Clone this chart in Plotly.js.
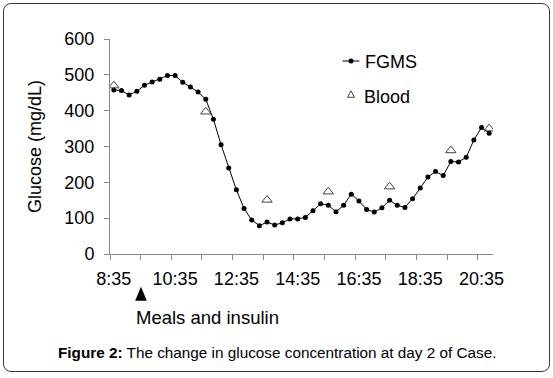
<!DOCTYPE html>
<html>
<head>
<meta charset="utf-8">
<script src="https://cdn.plot.ly/plotly-3.0.1.min.js"></script>
<style>
  html, body { margin: 0; padding: 0; background: #fff; }
  #wrap { position: relative; width: 553px; height: 378px; }
  #chart { position: absolute; left: 0; top: 0; width: 553px; height: 378px; }
  #frame { position: absolute; left: 3px; top: 3px; width: 545px; height: 367px;
           border: 1.2px solid #3a3a3a; border-radius: 8px; pointer-events: none; }
</style>
</head>
<body>
<div id="wrap">
  <div id="chart"></div>
  <div id="frame"></div>
</div>
<script>
// Time categories (every 15 minutes)
var times = ["8:35","8:50","9:05","9:20","9:35","9:50","10:05","10:20","10:35","10:50",
             "11:05","11:20","11:35","11:50","12:05","12:20","12:35","12:50","13:05","13:20",
             "13:35","13:50","14:05","14:20","14:35","14:50","15:05","15:20","15:35","15:50",
             "16:05","16:20","16:35","16:50","17:05","17:20","17:35","17:50","18:05","18:20",
             "18:35","18:50","19:05","19:20","19:35","19:50","20:05","20:20","20:35","20:50"];
// FGMS glucose (mg/dL)
var fgms = [458,456,444,454,471,480,488,498,498,479,
            466,452,432,376,305,240,179,127,95,79,
            89,81,87,98,98,102,121,140,136,118,
            136,167,148,124,117,129,150,136,130,154,
            184,215,230,219,258,257,270,318,353,337];
// Blood glucose (mg/dL)
var bloodTimes = ["8:35","11:35","13:35","15:35","17:35","19:35","20:50"];
var blood = [470,397,151,174,188,289,350];
// Axis labels
var tickLabels = ["8:35","10:35","12:35","14:35","16:35","18:35","20:35"];
var yTicks = [0,100,200,300,400,500,600];

var FONT = "Liberation Sans, Arial, sans-serif";
var AX = "#8a8a8a";
var FS = 18;

// tick marks at category boundaries, one per hour (every 4 categories)
var hourTicks = [];
for (var i = 0; i < times.length - 1; i += 4) { hourTicks.push(i - 0.5); }
var idx = times.map(function (t, i) { return i; });

var traces = [
  { x: times, y: fgms, type: "scatter", mode: "lines+markers", name: "FGMS",
    line: { color: "#000", width: 1 },
    marker: { color: "#000", size: 5, symbol: "circle" },
    xaxis: "x", yaxis: "y", showlegend: false, hoverinfo: "x+y" },
  { x: bloodTimes, y: blood, type: "scatter", mode: "markers", name: "Blood",
    marker: { symbol: "triangle-up-open", size: 9, color: "#444", line: { width: 1, color: "#444" } },
    xaxis: "x", yaxis: "y", showlegend: false, hoverinfo: "x+y" },
  { x: idx, y: fgms, type: "scatter", mode: "none", xaxis: "x2", yaxis: "y",
    showlegend: false, hoverinfo: "skip" }
];

var layout = {
  width: 553, height: 378,
  margin: { l: 110, r: 60, t: 39, b: 124, pad: 0 },
  paper_bgcolor: "#fff", plot_bgcolor: "#fff",
  font: { family: FONT, size: FS, color: "#000" },
  showlegend: false,
  xaxis: {
    type: "category", categoryorder: "array", categoryarray: times,
    range: [-0.5, times.length - 0.5],
    tickmode: "array", tickvals: tickLabels, ticktext: tickLabels,
    ticks: "", showline: true, linecolor: AX, linewidth: 1,
    showgrid: false, zeroline: false, ticklabelstandoff: 8,
    tickfont: { family: FONT, size: FS, color: "#000" }
  },
  xaxis2: {
    type: "linear", overlaying: "x", anchor: "y",
    range: [-0.5, times.length - 0.5],
    tickmode: "array", tickvals: hourTicks, showticklabels: false,
    ticks: "outside", ticklen: 5, tickcolor: AX, tickwidth: 1,
    showline: false, showgrid: false, zeroline: false
  },
  yaxis: {
    range: [0, 600], tickmode: "array", tickvals: yTicks,
    ticks: "outside", ticklen: 5, tickcolor: AX, tickwidth: 1,
    showline: true, linecolor: AX, linewidth: 1,
    showgrid: false, zeroline: false, ticklabelstandoff: 6,
    tickfont: { family: FONT, size: FS, color: "#000" },
    title: { text: "Glucose (mg/dL)", standoff: 18, font: { family: FONT, size: FS, color: "#000" } }
  },
  shapes: [
    // legend: FGMS line + dot
    { type: "line", xref: "paper", yref: "paper", xsizemode: "pixel", xanchor: 0.6292,
      x0: -8.5, x1: 8.5, y0: 0.8977, y1: 0.8977, line: { color: "#000", width: 1 } },
    { type: "circle", xref: "paper", yref: "paper", xsizemode: "pixel", ysizemode: "pixel",
      xanchor: 0.6292, yanchor: 0.8977, x0: -2.5, x1: 2.5, y0: -2.5, y1: 2.5,
      fillcolor: "#000", line: { color: "#000", width: 0 } },
    // legend: Blood triangle
    { type: "path", xref: "paper", yref: "paper", xsizemode: "pixel", ysizemode: "pixel",
      xanchor: 0.6292, yanchor: 0.7428, path: "M -3.5,-3 L 3.5,-3 L 0,3.5 Z",
      fillcolor: "rgba(0,0,0,0)", line: { color: "#444", width: 1 } },
    // Meals and insulin arrowhead
    { type: "path", xref: "paper", yref: "paper", xsizemode: "pixel", ysizemode: "pixel",
      xanchor: 0.0809, yanchor: -0.1847, path: "M -5.8,-7 L 5.8,-7 L 0,7 Z",
      fillcolor: "#000", line: { color: "#000", width: 0 } }
  ],
  annotations: [
    { text: "FGMS", xref: "paper", yref: "paper", x: 0.6598, y: 0.8944,
      xanchor: "left", yanchor: "middle", showarrow: false,
      font: { family: FONT, size: FS, color: "#000" } },
    { text: "Blood", xref: "paper", yref: "paper", x: 0.6572, y: 0.7288,
      xanchor: "left", yanchor: "middle", showarrow: false,
      font: { family: FONT, size: FS, color: "#000" } },
    { text: "Meals and insulin", xref: "paper", yref: "paper", x: 0.2545, y: -0.2944,
      xanchor: "center", yanchor: "middle", showarrow: false,
      font: { family: FONT, size: 18.5, color: "#000" } },
    { text: "<b>Figure 2:</b> The change in glucose concentration at day 2 of Case.",
      xref: "paper", yref: "paper", x: 0.4373, y: -0.4591,
      xanchor: "center", yanchor: "middle", showarrow: false,
      font: { family: FONT, size: 15.3, color: "#000" } }
  ]
};

Plotly.newPlot("chart", traces, layout, { staticPlot: true, displayModeBar: false });
</script>
</body>
</html>
